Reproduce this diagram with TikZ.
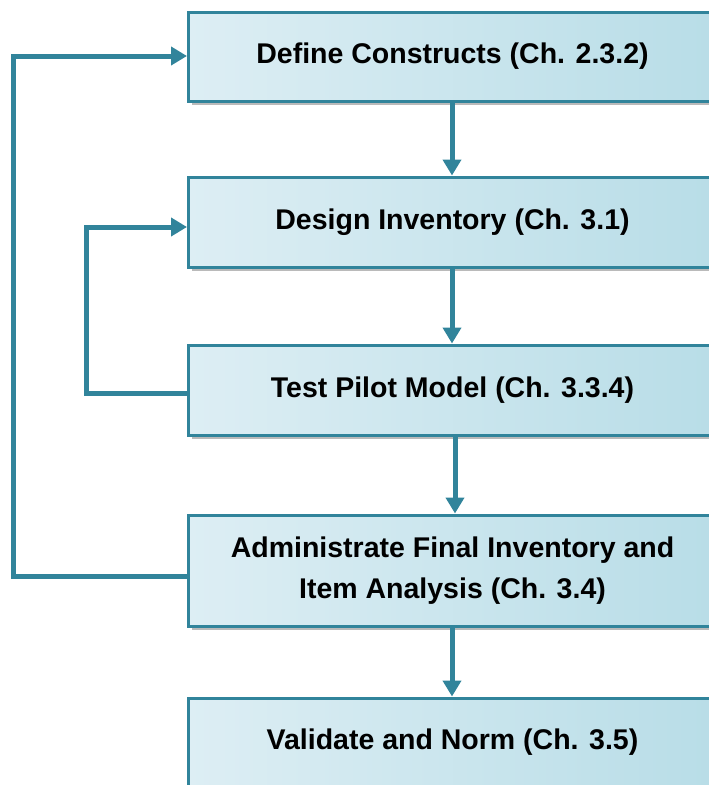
\documentclass[tikz,border=0pt]{standalone}
\usepackage{fontspec}
\setmainfont{Liberation Sans}
\usetikzlibrary{arrows.meta,shadows}
\definecolor{edgeteal}{HTML}{31849B}
\definecolor{boxlight}{HTML}{DDEEF4}
\definecolor{boxdark}{HTML}{B8DDE7}
\tikzset{
  stepbox/.style={draw=edgeteal, line width=3pt, left color=boxlight, right color=boxdark,
    minimum width=528pt, inner sep=0pt, anchor=west,
    font=\fontsize{28.5}{41}\selectfont\bfseries, align=center,
    drop shadow={shadow xshift=3pt, shadow yshift=-4pt, fill=black!45, opacity=0.6}},
  conn/.style={draw=edgeteal, line width=5pt, line join=miter,
    -{Triangle[width=18pt,length=16pt]}}
}
\begin{document}
\begin{tikzpicture}[x=1pt,y=1pt]
\useasboundingbox (0,0) rectangle (709,-785);
% process steps
\node[stepbox, minimum height=89pt] (b1) at (187,-56.5) {Define Constructs (Ch. 2.3.2)};
\node[stepbox, minimum height=90pt] (b2) at (187,-222) {Design Inventory (Ch. 3.1)};
\node[stepbox, minimum height=90pt] (b3) at (187,-390) {Test Pilot Model (Ch. 3.3.4)};
\node[stepbox, minimum height=111pt] (b4) at (187,-570.5) {Administrate Final Inventory and\\Item Analysis (Ch. 3.4)};
\node[stepbox, minimum height=89pt] (b5) at (187,-742.5) {Validate and Norm (Ch. 3.5)};
% forward flow
\coordinate (ax) at (452,0);
\coordinate (bx) at (455,0);
\draw[conn] (b1.south -| ax) -- (b2.north -| ax);
\draw[conn] (b2.south -| ax) -- (b3.north -| ax);
\draw[conn] (b3.south -| bx) -- (b4.north -| bx);
\draw[conn] (b4.south -| ax) -- (b5.north -| ax);
% feedback loops
\coordinate (o1) at (187,-576);
\coordinate (o2) at (13,-56);
\coordinate (i1) at (187,-393);
\coordinate (i2) at (86,-227);
\draw[conn] (o1) -| (o2) -- (b1.west |- o2);
\draw[conn] (i1) -| (i2) -- (b2.west |- i2);
\end{tikzpicture}
\end{document}
